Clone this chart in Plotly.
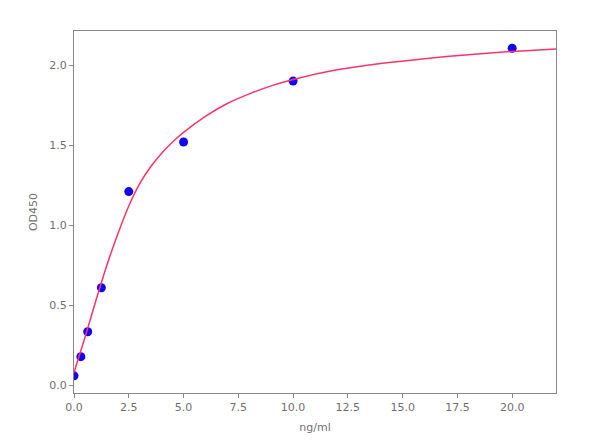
import plotly.graph_objects as go

# measured standards
conc = [0, 0.3125, 0.625, 1.25, 2.5, 5, 10, 20]
od = [0.06, 0.18, 0.335, 0.61, 1.21, 1.52, 1.90, 2.105]

# fitted curve
curve_x = [0, 0.5, 1, 1.5, 2, 2.5, 3, 3.5, 4, 4.5, 5, 6, 7, 8, 9, 10, 12, 14, 16, 18, 20, 22]
curve_y = [0.08, 0.30, 0.53, 0.75, 0.945, 1.12, 1.26, 1.365, 1.45, 1.52, 1.58, 1.68,
           1.76, 1.82, 1.87, 1.91, 1.97, 2.01, 2.04, 2.065, 2.085, 2.10]

x_ticks = [0, 2.5, 5, 7.5, 10, 12.5, 15, 17.5, 20]
y_ticks = [0, 0.5, 1.0, 1.5, 2.0]

fig = go.Figure()
fig.add_trace(go.Scatter(x=conc, y=od, mode="markers",
                         marker=dict(color="#1400ff", size=9, line=dict(width=0)),
                         showlegend=False))
fig.add_trace(go.Scatter(x=curve_x, y=curve_y, mode="lines",
                         line=dict(color="#ff3366", width=1.5, shape="spline", smoothing=0.6),
                         showlegend=False))

axis_common = dict(showline=True, linecolor="#888888", linewidth=1, mirror=True,
                   ticks="outside", ticklen=4, tickcolor="#888888", showgrid=False,
                   zeroline=False, tickfont=dict(family="DejaVu Sans", size=11, color="#707070"))

# page body has an 8px margin, so margins are offset to land the plot area
fig.update_layout(
    width=600, height=444,
    margin=dict(l=66, r=52, t=23, b=59, autoexpand=False),
    paper_bgcolor="white", plot_bgcolor="white",
    font=dict(family="DejaVu Sans", size=11, color="#707070"),
    xaxis=dict(range=[0, 22], tickvals=x_ticks, tickformat=".1f",
               title=dict(text="ng/ml", standoff=10, font=dict(size=11, color="#707070")),
               **axis_common),
    yaxis=dict(range=[-0.047, 2.2125], tickvals=y_ticks, tickformat=".1f",
               title=dict(text="OD450", standoff=9, font=dict(size=11, color="#707070")),
               **axis_common),
)

fig.write_html("out.html")
